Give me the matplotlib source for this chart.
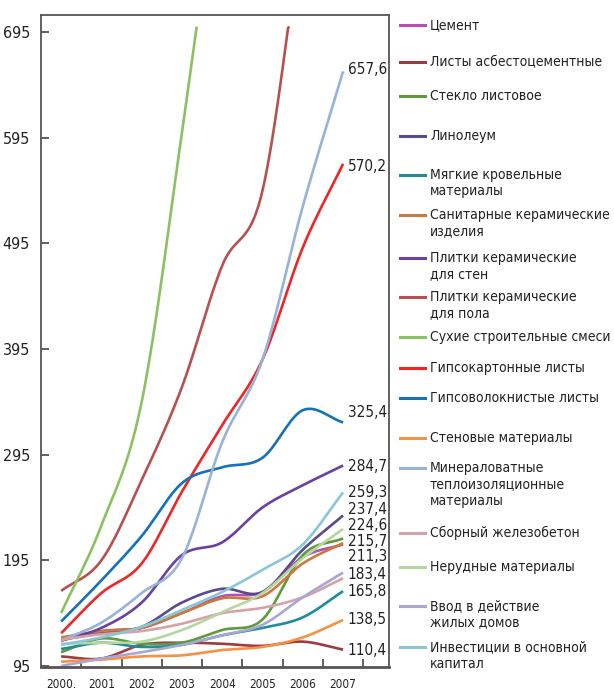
import numpy as np
import matplotlib
matplotlib.use("Agg")
import matplotlib.pyplot as plt
from matplotlib.lines import Line2D

# данные (индексы, 2000-2007)
years = [2000, 2001, 2002, 2003, 2004, 2005, 2006, 2007]
year_labels = ["2000.", "2001", "2002", "2003", "2004", "2005", "2006", "2007"]

cement      = [119, 128, 131, 145, 161, 165, 198, 210]
asbest      = [104, 102, 115, 117, 116, 114, 118, 110.4]
steklo      = [108, 121, 116, 117, 129, 139, 200, 215.7]
linoleum    = [120, 126, 132, 155, 168, 165, 205, 237.4]
krovlya     = [111, 117, 113, 115, 124, 131, 141, 165.8]
santeh      = [122, 128, 131, 145, 159, 161, 192, 211.3]
plitki_st   = [119, 131, 155, 200, 212, 245, 266, 284.7]
plitki_pol  = [166, 195, 271, 359, 474, 545, 800]
suhie       = [145, 228, 345, 600, 880]
gipsokarton = [126, 164, 192, 260, 323, 385, 491, 570.2]
gipsovolok  = [137, 176, 218, 268, 283, 292, 337, 325.4]
stenovye    = [99, 101, 104, 105, 110, 113, 122, 138.5]
mineralvat  = [119, 136, 164, 197, 307, 385, 530, 657.6]
zhbeton     = [120, 125, 128, 135, 145, 150, 160, 178]
nerudnye    = [116, 117, 118, 129, 146, 164, 197, 224.6]
vvod        = [95, 102, 108, 115, 124, 134, 160, 183.4]
invest      = [115, 122, 132, 148, 165, 186, 210, 259.3]

names = ["Цемент", "Листы асбестоцементные", "Стекло листовое", "Линолеум",
         "Мягкие кровельные\nматериалы", "Санитарные керамические\nизделия",
         "Плитки керамические\nдля стен", "Плитки керамические\nдля пола",
         "Сухие строительные смеси", "Гипсокартонные листы",
         "Гипсоволокнистые листы", "Стеновые материалы",
         "Минераловатные\nтеплоизоляционные\nматериалы", "Сборный железобетон",
         "Нерудные материалы", "Ввод в действие\nжилых домов",
         "Инвестиции в основной\nкапитал"]
series = [cement, asbest, steklo, linoleum, krovlya, santeh, plitki_st, plitki_pol,
          suhie, gipsokarton, gipsovolok, stenovye, mineralvat, zhbeton,
          nerudnye, vvod, invest]
colors = ["#b44fb4", "#9c3b40", "#5f9a3c", "#5b4b8e", "#1e8c9c", "#c97a3c",
          "#6a40a2", "#b65152", "#8cc163", "#ef2526", "#1471be", "#f69244",
          "#97b3d7", "#d4a2a8", "#b5d6a0", "#a9a6d4", "#8ac7d6"]

# подписи в конце линий: ряд и высота подписи
end_series = [mineralvat, gipsokarton, gipsovolok, plitki_st, invest, linoleum,
              nerudnye, steklo, santeh, vvod, krovlya, stenovye, asbest]
end_pos = [659, 568, 335, 284, 259, 243, 228, 213, 199, 182, 165, 139, 110]

plt.rcParams["font.family"] = ["DejaVu Sans"]
plt.rcParams["font.stretch"] = "condensed"


def smooth(x, y, n=30):
    # сглаживание Катмулла-Рома (только для отрисовки)
    x = np.asarray(x, float)
    y = np.asarray(y, float)
    m = np.gradient(y, x)
    xs, ys = [], []
    for i in range(len(x) - 1):
        h = x[i + 1] - x[i]
        t = np.linspace(0, 1, n, endpoint=False)
        h00 = 2 * t**3 - 3 * t**2 + 1
        h10 = t**3 - 2 * t**2 + t
        h01 = -2 * t**3 + 3 * t**2
        h11 = t**3 - t**2
        xs.append(x[i] + t * h)
        ys.append(h00 * y[i] + h10 * h * m[i] + h01 * y[i + 1] + h11 * h * m[i + 1])
    xs.append([x[-1]])
    ys.append([y[-1]])
    return np.concatenate(xs), np.concatenate(ys)


W, H = 614, 692
fig = plt.figure(figsize=(W / 100, H / 100), dpi=100)
ax = fig.add_axes([41 / W, 1 - 667 / H, (389 - 41) / W, (667 - 15) / H])

for s, c in zip(series, colors):
    xs, ys = smooth(years[:len(s)], s)
    over = np.where(ys > 700)[0]
    if len(over):
        k = over[0]
        xs, ys = xs[:k + 1], ys[:k + 1]
        ys[-1] = 700
    ax.plot(xs, ys, color=c, lw=1.9, solid_capstyle="butt", clip_on=False)

for s, yp in zip(end_series, end_pos):
    ax.text(2007.12, yp, f"{s[-1]:.1f}".replace(".", ","), fontsize=11,
            va="center", ha="left", color="#222222")

ax.set_xlim(1999.5, 2008.14)
ax.set_ylim(94, 711)
ax.set_yticks([95, 195, 295, 395, 495, 595, 695])
ax.set_xticks(years)
ax.set_xticklabels(year_labels, fontsize=8.5, color="#222222")
ax.set_xticks(np.arange(2000.5, 2008, 1), minor=True)
ax.tick_params(axis="x", which="major", length=0, pad=8)
ax.tick_params(axis="x", which="minor", direction="in", length=6, width=1.2, color="#444444")
ax.tick_params(axis="y", direction="in", length=6, width=1.2, color="#444444",
               labelsize=11.5, labelcolor="#222222", pad=8)
for sp in ax.spines.values():
    sp.set_color("#555555")
    sp.set_linewidth(1.3)
ax.spines["bottom"].set_linewidth(2)

# легенда справа
leg_y = [25, 62, 96, 136, 175, 215, 258, 297, 337, 368, 398, 438, 468, 533, 567, 606, 647]
for name, c, yp in zip(names, colors, leg_y):
    fy = 1 - yp / H
    fig.add_artist(Line2D([400 / W, 425 / W], [fy, fy], color=c, lw=2.2,
                          transform=fig.transFigure))
    for j, line in enumerate(name.split("\n")):
        fig.text(430 / W, 1 - (yp + j * 16.5) / H, line, fontsize=10,
                 va="center", ha="left", color="#222222")

fig.savefig("out.png", dpi=100)
